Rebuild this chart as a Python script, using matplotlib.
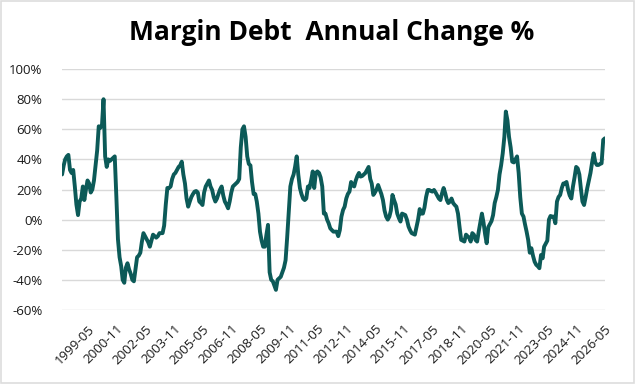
import numpy as np
import pandas as pd
import matplotlib
matplotlib.use('Agg')
import matplotlib.pyplot as plt
import matplotlib.dates as mdates
from matplotlib.patches import Rectangle

startMonth = '1998-01-01'
annualChange = [
    30, 36, 40, 42, 43, 33, 31, 33, 22, 10,
    3, 12, 14, 22, 13, 20, 26, 24, 18, 20,
    26, 36, 46, 62, 61, 63, 80, 42, 35, 40,
    39, 40, 41, 42, 15, -13, -25, -31, -40, -42,
    -32, -29, -33, -36, -40, -41, -33, -25, -24, -22,
    -15, -9, -11, -13, -15, -18, -14, -10, -11, -12,
    -11, -9, -9, -9, -4, 10, 21, 21, 22, 27,
    30, 31, 33, 35, 36, 38.5, 30, 24, 14, 8.6,
    12, 15, 17, 18.6, 19, 18, 12, 11, 9.7, 18,
    22, 24, 26, 22, 19.7, 15, 12, 14, 17, 20,
    22, 16, 12, 10, 7.5, 12, 18, 22, 23, 24,
    25, 27, 48, 60, 62, 55, 42, 37, 36, 25,
    17, 17, 12, 4, -8, -14, -18, -18, -10, -3.5,
    -35, -40, -41, -44, -46.7, -40, -39, -38, -35, -32,
    -27, -12, 5, 22, 27, 30, 35, 42, 30, 21,
    17, 14, 13, 14, 22, 21, 26, 32, 21, 31,
    32, 31, 28, 22, 4, 4, 0, -2.4, -5.8, -7,
    -8, -8, -8, -11, -7, 2, 6.4, 8.6, 14, 17,
    18.6, 25, 23, 22, 26, 29, 31, 28.6, 29, 30,
    31, 33, 35, 27, 24, 16.4, 18, 20, 23, 20,
    17, 13, 6, 2, 0, 2, 6, 16.4, 13, 10,
    4, 1, -1.3, 4, 3.5, 3, 0, -4.6, -7, -9,
    -9.5, -10, -5, 0, 7, 4, 4, 8, 15, 19.7,
    19.7, 19, 18.6, 19.7, 18, 16, 14, 13, 17.5, 21,
    17.5, 13, 11, 12, 14, 11, 9.7, 8.6, 4, -5,
    -13.5, -14, -14.6, -10, -11, -12, -14.6, -9, -10, -13.5,
    -14.6, -8, -2, 4, -2, -10, -15.7, -5, -3, -1,
    3, 11, 15, 19.7, 30, 36, 44, 55, 71.8, 66,
    55, 48, 38.5, 38, 40, 42, 31, 15, 4, 2,
    -3, -8, -13.5, -22, -19, -24, -28, -30, -31, -32.3,
    -23.5, -25.7, -18, -16, -14, 0, 2.4, 2, 2, -2.4,
    12, 15, 16.4, 21, 24, 24, 25, 19.7, 16, 14,
    22, 28, 35, 34, 30, 20, 12, 9.7, 15, 21,
    26, 31, 38, 44, 38, 36.3, 36.3, 37, 37.4, 53,
    54,
]
tickLabels = ['1999-05', '2000-11', '2002-05', '2003-11', '2005-05', '2006-11',
              '2008-05', '2009-11', '2011-05', '2012-11', '2014-05', '2015-11',
              '2017-05', '2018-11', '2020-05', '2021-11', '2023-05', '2024-11', '2026-05']
yTicks = [-60, -40, -20, 0, 20, 40, 60, 80, 100]

plt.rcParams['font.family'] = ['Open Sans', 'DejaVu Sans']

dates = pd.date_range(startMonth, periods=len(annualChange), freq='MS')
tickDates = pd.to_datetime(tickLabels, format='%Y-%m')

fig = plt.figure(figsize=(6.4, 3.84), dpi=100)
ax = fig.add_axes([0.097, 0.193, 0.848, 0.627])

ax.plot(dates, annualChange, color='#0c5a58', linewidth=2.8,
        solid_joinstyle='round', solid_capstyle='round')

ax.set_ylim(-60, 100)
ax.set_yticks(yTicks)
ax.set_yticklabels([f'{v}%' for v in yTicks])
ax.set_xlim(dates[0], dates[-1])
ax.set_xticks(tickDates)
ax.set_xticklabels(tickLabels, rotation=45, ha='right', va='top', rotation_mode='anchor')
ax.tick_params(axis='both', length=0, labelsize=9.5, colors='#1a1a1a')
ax.tick_params(axis='x', pad=9)
ax.tick_params(axis='y', pad=14)
ax.grid(axis='y', color='#d9d9d9', linewidth=1)
ax.set_axisbelow(True)
for spine in ax.spines.values():
    spine.set_visible(False)

fig.text(0.518, 0.915, 'Margin Debt  Annual Change %', ha='center', va='center',
         fontsize=19, fontweight='bold', color='black')

fig.patches.append(Rectangle((0.001, 0.002), 0.99, 0.996, transform=fig.transFigure,
                             fill=False, edgecolor='#dddddd', linewidth=1.2))

fig.savefig('out.png', dpi=100)
